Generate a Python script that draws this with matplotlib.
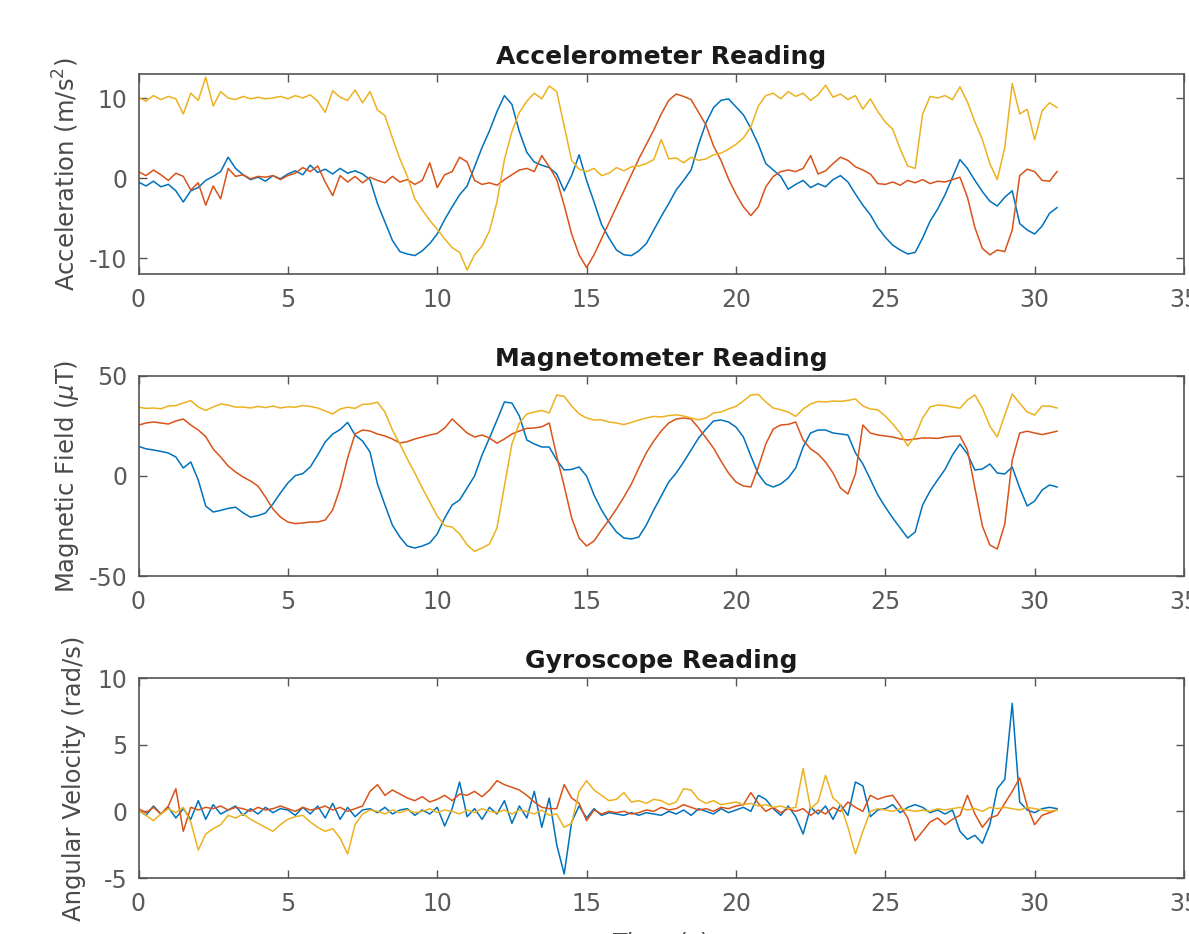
import numpy as np
import matplotlib
matplotlib.use("Agg")
import matplotlib.pyplot as plt

# ---- sampled sensor log (0.25 s steps, 0 .. 30.75 s) ----
dt = 0.25
n_samples = 124

acc_x = [-0.5, -1.0, -0.4, -1.1,  -0.8, -1.6, -3.0, -1.6,  -1.2, -0.3, 0.2, 0.8,  2.6, 1.2, 0.4, -0.2,
         0.1, -0.4, 0.3, -0.1,  0.5, 0.9, 0.4, 1.6,  0.7, 1.1, 0.5, 1.2,  0.6, 0.9, 0.5, -0.2,
         -3.2, -5.5, -7.8, -9.2,  -9.5, -9.7, -9.1, -8.2,  -7.0, -5.2, -3.6, -2.1,  -1.0, 1.4, 3.8, 5.9,
         8.3, 10.3, 9.2, 5.8,  3.2, 2.0, 1.6, 1.3,  0.5, -1.6, 0.3, 2.9,  -0.3, -3.0, -5.8, -7.5,
         -9.0, -9.6, -9.7, -9.1,  -8.2, -6.5, -4.8, -3.2,  -1.5, -0.3, 1.0, 4.2,  6.9, 8.8, 9.7, 9.9,
         8.9, 7.9, 6.2, 4.2,  1.8, 1.0, 0.2, -1.4,  -0.8, -0.3, -1.2, -0.7,  -1.1, -0.2, 0.3, -0.5,
         -2.0, -3.4, -4.6, -6.2,  -7.4, -8.4, -9.0, -9.5,  -9.3, -7.5, -5.4, -3.9,  -2.1, 0.1, 2.3, 1.2,
         -0.3, -1.7, -2.9, -3.5,  -2.4, -1.6, -5.7, -6.5,  -7.0, -6.0, -4.4, -3.7]

acc_y = [0.8, 0.3, 1.0, 0.4,  -0.3, 0.6, 0.2, -1.5,  -0.6, -3.4, -1.0, -2.6,  1.2, 0.2, 0.4, -0.1,
         0.2, 0.1, 0.3, -0.2,  0.3, 0.6, 1.3, 0.8,  1.5, -0.5, -2.2, 0.3,  -0.5, 0.2, -0.6, 0.1,
         -0.3, -0.6, 0.2, -0.5,  -0.2, -0.8, -0.3, 1.9,  -1.2, 0.4, 0.8, 2.6,  2.0, -0.3, -0.8, -0.6,
         -0.9, -0.2, 0.4, 1.0,  1.2, 0.8, 2.8, 1.4,  -0.2, -3.4, -7.0, -9.6,  -11.2, -9.6, -7.6, -5.6,
         -3.6, -1.6, 0.4, 2.4,  4.2, 6.0, 8.0, 9.7,  10.5, 10.2, 9.8, 8.2,  6.6, 4.0, 2.2, -0.1,
         -2.0, -3.6, -4.7, -3.6,  -1.1, 0.2, 0.8, 1.0,  0.8, 1.2, 2.8, 0.5,  0.9, 1.8, 2.6, 2.2,
         1.4, 1.0, 0.5, -0.7,  -0.8, -0.5, -0.9, -0.3,  -0.6, -0.2, -0.7, -0.4,  -0.5, -0.2, 0.1, -2.4,
         -6.2, -8.8, -9.6, -9.0,  -9.2, -6.5, 0.3, 1.1,  0.8, -0.3, -0.4, 0.8]

acc_z = [10.1, 9.6, 10.3, 9.8,  10.2, 9.9, 8.0, 10.6,  9.7, 12.6, 9.0, 10.8,  10.0, 9.8, 10.2, 9.9,
         10.1, 9.9, 10.0, 10.2,  9.9, 10.3, 10.0, 10.4,  9.6, 8.2, 10.9, 10.1,  9.7, 11.0, 9.4, 10.8,
         8.5, 7.8, 5.0, 2.4,  0.2, -2.6, -4.0, -5.3,  -6.4, -7.6, -8.7, -9.3,  -11.5, -9.6, -8.5, -6.6,
         -3.0, 2.3, 5.8, 8.2,  9.6, 10.6, 9.9, 11.5,  10.8, 6.5, 2.2, 1.1,  0.8, 1.2, 0.3, 0.6,
         1.3, 0.9, 1.4, 1.5,  1.8, 2.3, 4.8, 2.4,  2.5, 1.9, 2.6, 2.2,  2.4, 2.9, 3.1, 3.6,
         4.2, 5.0, 6.4, 9.0,  10.3, 10.6, 9.9, 10.8,  10.2, 10.6, 9.7, 10.4,  11.6, 10.1, 10.5, 9.8,
         10.3, 8.6, 9.9, 8.3,  7.0, 6.1, 3.6, 1.5,  1.2, 8.0, 10.2, 10.0,  10.3, 9.8, 11.4, 9.5,
         7.0, 4.8, 1.8, -0.2,  3.8, 11.8, 8.0, 8.6,  4.8, 8.4, 9.4, 8.8]

mag_x = [14.8, 13.6, 13.0, 12.3,  11.5, 9.5, 4.0, 7.0,  -2.0, -15.0, -18.0, -17.2,  -16.2, -15.6, -18.4, -20.6,
         -19.8, -18.5, -14.0, -8.5,  -3.5, 0.2, 1.2, 4.5,  10.5, 17.0, 21.0, 23.2,  26.8, 20.5, 17.5, 12.0,
         -4.0, -14.5, -24.6, -30.5,  -35.0, -36.0, -35.0, -33.5,  -29.0, -21.0, -14.5, -12.0,  -6.0, 0.0, 10.5, 19.0,
         27.9, 37.0, 36.5, 30.0,  18.0, 16.0, 14.5, 14.5,  8.0, 3.0, 3.3, 4.5,  0.0, -9.5, -17.0, -23.0,
         -28.0, -31.0, -31.5, -30.5,  -24.5, -17.0, -10.0, -3.0,  1.5, 7.0, 13.0, 19.0,  23.5, 27.5, 28.0, 27.0,
         24.5, 19.5, 10.0, 1.0,  -4.0, -5.5, -4.0, -1.0,  4.0, 14.5, 21.5, 23.0,  23.0, 21.5, 21.0, 20.5,
         11.6, 6.0, -1.7, -9.5,  -15.5, -21.0, -26.0, -31.0,  -28.0, -14.5, -7.5, -2.0,  3.3, 10.5, 16.0, 11.0,
         3.0, 3.5, 6.0, 1.5,  1.0, 4.5, -6.0, -15.0,  -12.5, -7.0, -4.5, -5.5]

mag_y = [25.4, 26.5, 27.0, 26.5,  26.0, 27.5, 28.5, 25.5,  23.0, 19.7, 13.5, 9.5,  5.0, 2.0, -0.5, -2.5,
         -5.0, -10.5, -16.5, -20.5,  -23.0, -23.8, -23.5, -23.0,  -23.0, -22.0, -17.0, -6.0,  9.0, 21.0, 23.0, 22.5,
         21.0, 20.0, 18.5, 16.5,  17.2, 18.5, 19.5, 20.5,  21.3, 24.0, 28.5, 25.0,  21.5, 19.5, 20.5, 19.0,
         16.4, 18.5, 21.0, 22.5,  23.8, 24.0, 24.6, 26.5,  10.0, -5.0, -21.0, -31.0,  -35.0, -32.5, -27.0, -22.0,
         -16.5, -10.5, -4.0, 4.0,  11.6, 17.5, 22.5, 26.5,  28.5, 29.0, 28.5, 24.0,  19.0, 14.0, 7.5, 1.5,
         -3.0, -5.0, -5.5, 4.5,  16.0, 23.5, 25.5, 25.8,  27.0, 18.0, 13.5, 11.0,  7.0, 1.5, -6.0, -9.0,
         1.0, 25.5, 21.5, 20.5,  20.0, 19.5, 18.5, 18.0,  18.5, 19.0, 19.0, 18.8,  19.5, 19.9, 20.0, 13.0,
         -6.0, -25.0, -34.5, -36.5,  -24.0, 8.0, 21.5, 22.4,  21.5, 20.7, 21.5, 22.4]

mag_z = [34.4, 33.8, 34.0, 33.6,  35.0, 35.2, 36.5, 37.7,  34.5, 32.8, 34.5, 36.0,  35.5, 34.4, 34.5, 34.0,
         34.8, 34.2, 35.0, 34.0,  34.6, 34.4, 35.2, 34.8,  34.0, 32.5, 31.0, 33.5,  34.4, 33.8, 35.8, 36.0,
         36.9, 32.0, 23.0, 16.0,  8.5, 1.5, -6.0, -13.0,  -20.0, -24.8, -25.5, -29.0,  -34.4, -37.7, -36.0, -34.0,
         -26.0, -5.0, 16.0, 26.5,  31.0, 32.0, 32.8, 31.5,  40.5, 39.8, 35.0, 31.0,  29.0, 28.0, 28.1, 27.0,
         26.5, 25.7, 26.8, 28.0,  29.0, 29.8, 29.5, 30.2,  30.6, 30.0, 29.0, 28.1,  29.0, 31.5, 32.0, 33.5,
         34.8, 37.5, 40.5, 40.8,  37.0, 34.0, 33.1, 32.0,  29.8, 33.5, 36.0, 37.3,  37.0, 37.5, 37.3, 37.8,
         38.5, 35.0, 33.5, 33.1,  30.0, 26.0, 21.5, 15.0,  20.0, 29.0, 34.5, 35.5,  35.2, 34.5, 33.9, 38.0,
         40.5, 34.0, 25.0, 19.5,  30.5, 41.0, 36.4, 32.0,  30.5, 35.0, 35.0, 34.0]

gyr_x = [0.1, -0.3, 0.4, -0.2,  0.3, -0.5, 0.2, -0.6,  0.8, -0.6, 0.5, -0.2,  0.1, 0.4, -0.3, 0.2,
         -0.2, 0.3, -0.1, 0.2,  0.1, -0.3, 0.3, -0.2,  0.4, -0.5, 0.6, -0.6,  0.3, -0.4, 0.1, 0.2,
         -0.1, 0.3, -0.2, 0.1,  0.2, -0.3, 0.1, -0.2,  0.3, -1.1, 0.2, 2.2,  -0.4, 0.2, -0.6, 0.3,
         -0.2, 0.8, -0.9, 0.4,  -0.5, 1.5, -1.2, 1.0,  -2.5, -4.7, -0.8, 0.4,  -0.5, 0.2, -0.3, -0.1,
         -0.2, -0.3, -0.1, -0.3,  -0.1, -0.2, -0.3, 0.0,  -0.2, 0.1, -0.3, 0.2,  0.0, -0.2, 0.2, -0.1,
         0.1, 0.3, 0.0, 1.2,  0.9, 0.2, -0.3, 0.4,  -0.4, -1.7, 0.3, -0.2,  0.4, -0.6, 0.5, -0.3,
         2.2, 1.9, -0.4, 0.1,  0.2, 0.5, -0.1, 0.3,  0.5, 0.3, -0.1, 0.1,  -0.2, 0.1, -1.5, -2.1,
         -1.8, -2.4, -1.0, 1.7,  2.4, 8.1, 0.7, 0.1,  -0.1, 0.2, 0.3, 0.2]

gyr_y = [0.2, -0.1, 0.3, -0.2,  0.4, 1.7, -1.5, 0.3,  0.1, 0.3, 0.2, 0.4,  0.1, 0.3, 0.2, 0.0,
         0.3, 0.1, 0.2, 0.4,  0.2, 0.0, 0.3, 0.1,  0.2, 0.4, 0.1, 0.3,  0.0, 0.2, 0.4, 1.5,
         2.0, 1.2, 1.6, 1.3,  1.0, 0.8, 1.1, 0.7,  0.9, 1.2, 0.8, 1.3,  1.2, 1.5, 1.1, 1.6,
         2.3, 2.0, 1.8, 1.6,  1.2, 0.7, 0.3, 0.2,  0.2, 2.0, 1.0, 0.6,  -0.7, 0.1, -0.2, 0.0,
         -0.1, 0.0, -0.2, -0.1,  0.1, 0.0, 0.3, 0.1,  0.2, 0.5, 0.3, 0.1,  0.2, 0.0, 0.3, 0.2,
         0.4, 0.5, 1.4, 0.6,  0.0, 0.3, -0.1, 0.2,  0.0, 0.2, -0.3, 0.1,  -0.2, 0.3, 0.0, 0.7,
         0.3, 0.0, 1.2, 0.9,  1.1, 1.2, 0.4, -0.5,  -2.2, -1.5, -0.8, -0.5,  -1.0, -0.6, -0.3, 1.2,
         -0.2, -1.2, -0.5, -0.3,  0.6, 1.5, 2.5, 0.4,  -1.0, -0.3, -0.1, 0.1]

gyr_z = [0.1, -0.3, -0.7, -0.2,  0.2, -0.1, 0.3, -0.8,  -2.9, -1.7, -1.3, -1.0,  -0.3, -0.5, -0.2, -0.6,
         -0.9, -1.2, -1.5, -1.0,  -0.6, -0.4, -0.3, -0.8,  -1.2, -1.5, -1.3, -2.0,  -3.2, -1.0, -0.2, 0.1,
         0.0, -0.2, 0.1, -0.1,  0.1, -0.1, 0.0, 0.2,  -0.1, 0.1, 0.0, -0.2,  0.1, -0.1, 0.2, 0.0,
         -0.1, 0.1, -0.2, 0.1,  0.0, -0.2, 0.1, -0.3,  -0.2, -1.2, -0.9, 1.5,  2.3, 1.6, 1.2, 0.8,
         0.9, 1.4, 0.7, 0.8,  0.6, 0.9, 0.8, 0.5,  0.7, 1.7, 1.6, 0.9,  0.6, 0.8, 0.5, 0.6,
         0.7, 0.5, 0.6, 0.4,  0.5, 0.3, 0.4, 0.2,  0.3, 3.2, 0.2, 0.7,  2.7, 1.0, 0.5, -1.2,
         -3.2, -1.5, 0.0, 0.2,  0.1, 0.0, 0.2, 0.1,  0.0, 0.1, 0.0, 0.2,  0.1, 0.2, 0.3, 0.1,
         0.2, 0.0, 0.3, 0.2,  0.3, 0.2, 0.1, 0.3,  0.2, 0.1, 0.0, 0.1]

titles = ["Accelerometer Reading", "Magnetometer Reading", "Gyroscope Reading"]
ylabels = [r"Acceleration (m/s$^2$)", r"Magnetic Field ($\mu$T)", "Angular Velocity (rad/s)"]
ylims = [(-12.0, 13.0), (-50, 50), (-5, 10)]
yticks = [[-10, 0, 10], [-50, 0, 50], [-5, 0, 5, 10]]
xticks = [0, 5, 10, 15, 20, 25, 30, 35]

colors = ["#0072BD", "#D95319", "#EDB120"]
t = np.arange(n_samples) * dt

panels = [(acc_x, acc_y, acc_z), (mag_x, mag_y, mag_z), (gyr_x, gyr_y, gyr_z)]

plt.rcParams["font.family"] = "DejaVu Sans"
plt.rcParams["axes.unicode_minus"] = False
fig = plt.figure(figsize=(11.89, 9.34), dpi=100)

W, H = 1189.0, 934.0
left_px, right_px = 138.5, 1184.0
tops_px = [74, 376, 678]
h_px = 200
label_right_px = [81, 81, 86]

axis_grey = "#555555"
for k, (series, top) in enumerate(zip(panels, tops_px)):
    ax = fig.add_axes([left_px / W, 1 - (top + h_px) / H,
                       (right_px - left_px) / W, h_px / H])
    for s, c in zip(series, colors):
        ax.plot(t, s, color=c, lw=1.1)
    ax.set_xlim(0, 35)
    ax.set_ylim(*ylims[k])
    ax.set_xticks(xticks)
    ax.set_yticks(yticks[k])
    ax.tick_params(direction="in", top=True, right=True, length=6, width=1.0,
                   colors=axis_grey, labelsize=17, labelcolor="#5a5a5a")
    ax.tick_params(axis="x", pad=10)
    ax.tick_params(axis="y", pad=8)
    for sp in ax.spines.values():
        sp.set_color(axis_grey)
        sp.set_linewidth(1.2)
    ax.set_title(titles[k], fontsize=18, fontweight="bold", color="#1a1a1a", pad=7)
    ax.set_ylabel(ylabels[k], fontsize=17.5, color="#4a4a4a")
    ax.yaxis.set_label_coords((label_right_px[k] - left_px) / (right_px - left_px), 0.5)
    if k == 2:
        ax.set_xlabel("Time (s)", fontsize=17, color="#4a4a4a", labelpad=11)

fig.savefig("out.png", dpi=100)
